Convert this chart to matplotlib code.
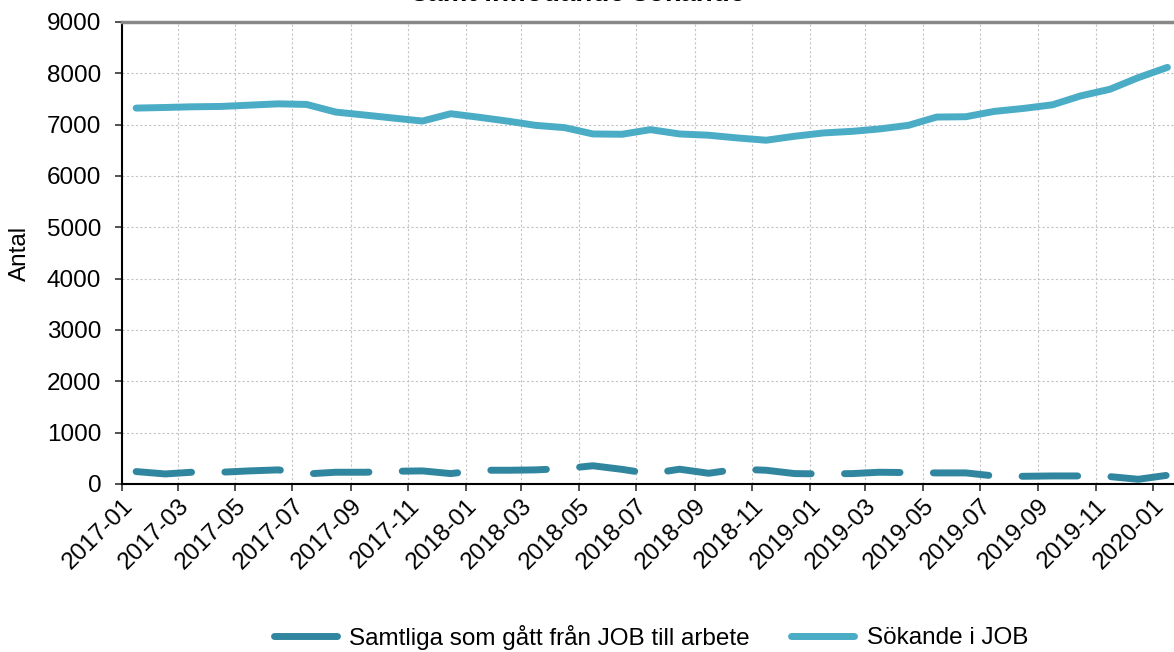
import pandas as pd
import matplotlib
matplotlib.use("Agg")
import matplotlib.pyplot as plt
import matplotlib.dates as mdates
from matplotlib.lines import Line2D

plt.rcParams['font.family'] = ['Liberation Sans', 'DejaVu Sans']

# monthly values, Jan 2017 - Jan 2020 (plotted mid-month)
months = pd.date_range("2017-01-01", "2020-01-01", freq="MS") + pd.Timedelta(days=15)

sokande = [7323, 7335, 7348, 7355, 7380, 7406, 7394, 7245, 7187, 7129,
           7071, 7213, 7142, 7065, 6987, 6942, 6819, 6813, 6903, 6819,
           6794, 6742, 6697, 6774, 6839, 6871, 6916, 6987, 7148, 7155,
           7258, 7316, 7387, 7561, 7690, 7916, 8116]

till_arbete = [242, 196, 229, 229, 255, 275, 196, 229, 229, 248,
               255, 203, 268, 268, 275, 300, 355, 285, 200, 288,
               209, 288, 268, 203, 196, 203, 229, 222, 216, 216,
               157, 150, 157, 157, 144, 92, 170]

dark = '#31869f'
light = '#4bacc6'
fs = 17.5

fig = plt.figure(figsize=(11.74, 6.52), dpi=100)
ax = fig.add_axes([122/1174, 1-484/652, 1-122/1174, (484-22)/652])

ax.plot(months, till_arbete, color=dark, lw=5, dashes=(8, 4.8),
        dash_capstyle='round', solid_capstyle='round', zorder=3)
ax.plot(months, sokande, color=light, lw=5, solid_capstyle='round', zorder=3)

ax.set_ylim(0, 9000)
ax.set_yticks(range(0, 9001, 1000))
ax.set_xlim(pd.Timestamp("2017-01-01"), pd.Timestamp("2020-01-23"))
ax.xaxis.set_major_locator(mdates.MonthLocator(bymonth=[1, 3, 5, 7, 9, 11]))
ax.xaxis.set_major_formatter(mdates.DateFormatter('%Y-%m'))

for lab in ax.get_xticklabels():
    lab.set_rotation(45)
    lab.set_ha('right')
    lab.set_rotation_mode('anchor')

ax.tick_params(axis='both', labelsize=fs, direction='out', color='#333333')
ax.tick_params(axis='x', length=5, width=1.2, pad=3)
ax.tick_params(axis='y', length=5, width=1.2, pad=10)

ax.grid(True, color='#c4c4c4', lw=0.8, linestyle=(0, (2, 2)))
ax.set_axisbelow(True)

ax.spines['right'].set_visible(False)
ax.spines['top'].set_color('#888888')
ax.spines['top'].set_linewidth(2.5)
ax.spines['left'].set_linewidth(1.5)
ax.spines['bottom'].set_linewidth(1.5)

ax.set_ylabel('Antal', fontsize=fs)
ax.yaxis.set_label_coords(-0.087, 0.5)

fig.text(0.493, 1-1/652, 'samt inflödande sökande', fontsize=20,
         fontweight='bold', ha='center', va='baseline')

handles = [Line2D([], [], color=dark, lw=5, solid_capstyle='round'),
           Line2D([], [], color=light, lw=5, solid_capstyle='round')]
fig.legend(handles, ['Samtliga som gått från JOB till arbete', 'Sökande i JOB'],
           loc='center', bbox_to_anchor=(651/1174, 1-637/652), ncol=2,
           frameon=False, fontsize=fs, handlelength=2.6,
           handletextpad=0.5, columnspacing=1.7)

fig.savefig('out.png', dpi=100)
